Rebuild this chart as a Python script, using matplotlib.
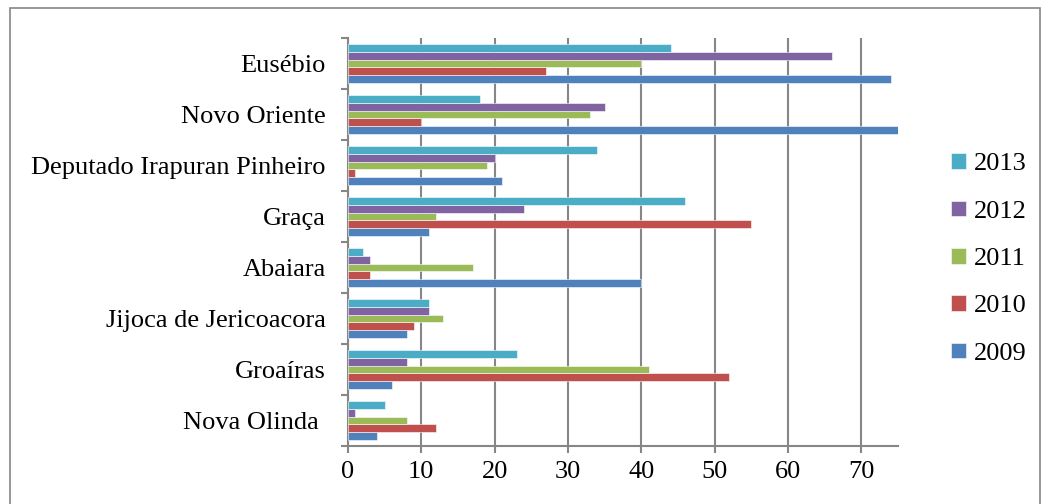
import numpy as np
import matplotlib.pyplot as plt
from matplotlib.patches import Rectangle

plt.rcParams['font.family'] = ['Liberation Serif', 'DejaVu Serif']

cities = ['Eusébio', 'Novo Oriente', 'Deputado Irapuran Pinheiro', 'Graça',
          'Abaiara', 'Jijoca de Jericoacora', 'Groaíras', 'Nova Olinda ']
years = ['2009', '2010', '2011', '2012', '2013']
v2009 = [74, 75, 21, 11, 40, 8, 6, 4]
v2010 = [27, 10, 1, 55, 3, 9, 52, 12]
v2011 = [40, 33, 19, 12, 17, 13, 41, 8]
v2012 = [66, 35, 20, 24, 3, 11, 8, 1]
v2013 = [44, 18, 34, 46, 2, 11, 23, 5]
colors = ['#4F81BD', '#C0504D', '#9BBB59', '#8064A2', '#4BACC6']

fig = plt.figure(figsize=(10.48, 5.04), dpi=100)
ax = fig.add_axes([348 / 1048, 1 - 446 / 504, 550 / 1048, 408 / 504])

# outer frame around the chart area
fig.patches.append(Rectangle((10 / 1048, -0.02), 1030 / 1048, 1.02 - 8 / 504,
                             transform=fig.transFigure, fill=False,
                             edgecolor='#868686', linewidth=1.2))

n = len(cities)
ypos = np.arange(n)[::-1]  # first city at top
h = 0.153
series = [v2009, v2010, v2011, v2012, v2013]
for k, (vals, yr, c) in enumerate(zip(series, years, colors)):
    off = (k - 2) * h
    ax.barh(ypos + off, vals, height=h, color=c, label=yr,
            edgecolor='white', linewidth=0.4, zorder=3)

ax.set_xlim(0, 75)
ax.set_ylim(-0.5, n - 0.5)
ax.set_xticks(range(0, 71, 10))
ax.set_yticks(ypos)
ax.set_yticklabels(cities)
ax.set_yticks(np.arange(-0.5, n, 1), minor=True)
ax.tick_params(axis='y', which='major', length=0, labelsize=19, pad=16)
ax.tick_params(axis='y', which='minor', length=5, width=1.5, color='#868686', direction='out')
ax.tick_params(axis='x', length=5, width=1.5, color='#868686', labelsize=19, pad=6)
ax.grid(axis='x', color='#868686', linewidth=1.5, zorder=0)
for s in ['top', 'right']:
    ax.spines[s].set_visible(False)
for s in ['left', 'bottom']:
    ax.spines[s].set_color('#868686')
    ax.spines[s].set_linewidth(1.5)

handles, labels = ax.get_legend_handles_labels()
leg = fig.legend(handles[::-1], labels[::-1], loc='center left',
                 bbox_to_anchor=(938 / 1048, 1 - 259 / 504), frameon=False,
                 fontsize=19, handlelength=0.55, handleheight=0.55,
                 handletextpad=0.3, labelspacing=0.95, borderpad=0)

fig.savefig('out.png', dpi=100)
